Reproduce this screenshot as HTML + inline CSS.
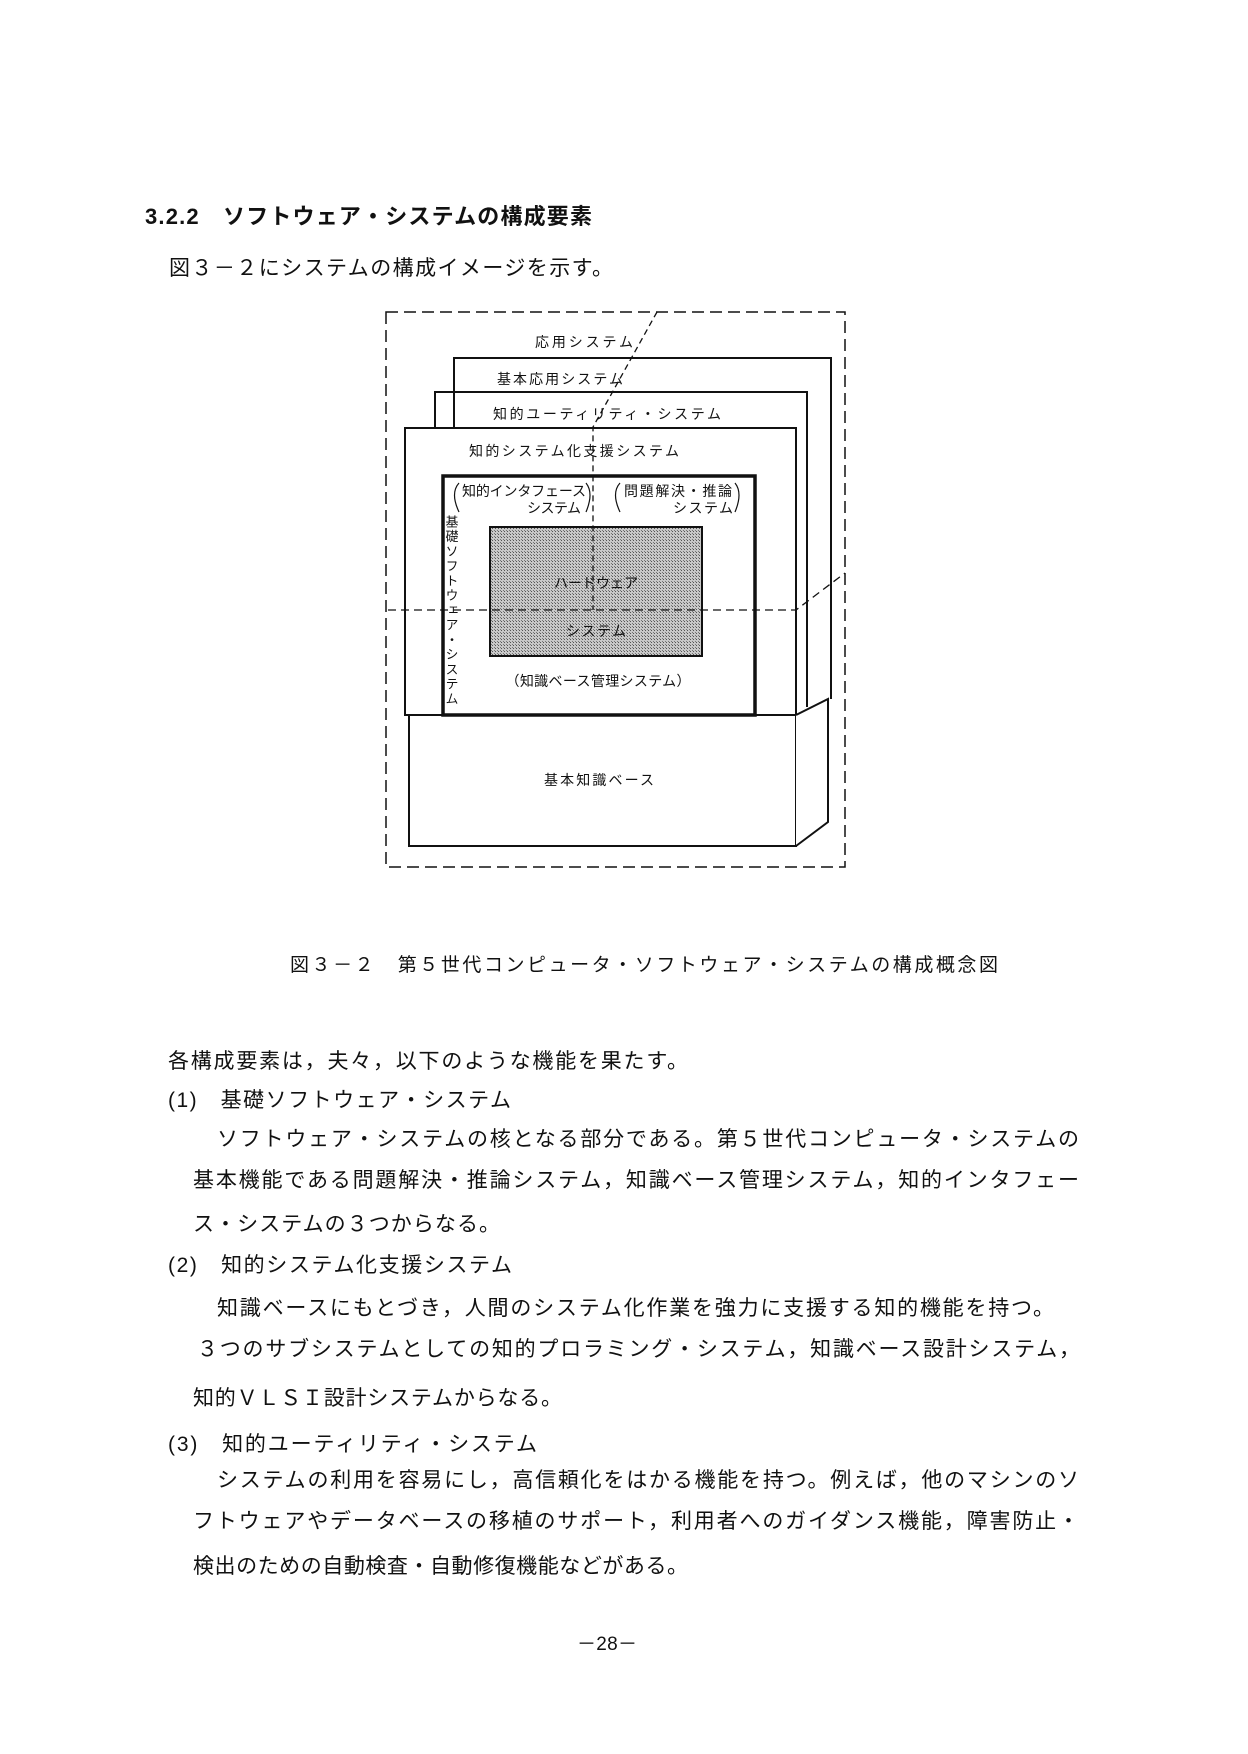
<!DOCTYPE html>
<html><head><meta charset="utf-8"><style>
html,body{margin:0;padding:0;background:#fff}
svg{display:block}
text{font-family:"Liberation Sans","Noto Sans CJK JP",sans-serif;fill:#111}
</style></head><body>
<svg width="1248" height="1754" viewBox="0 0 1248 1754" xmlns="http://www.w3.org/2000/svg">
<defs>
<pattern id="h" width="3" height="3" patternUnits="userSpaceOnUse">
<rect width="3" height="3" fill="#c8c8c8"/><rect width="1" height="1" fill="#555"/><rect x="2" y="2" width="1" height="1" fill="#777"/>
</pattern>
</defs>
<text x="145" y="224" font-size="22" font-weight="bold" textLength="447" lengthAdjust="spacing">3.2.2　ソフトウェア・システムの構成要素</text>
<text x="169" y="275" font-size="21" textLength="444" lengthAdjust="spacing">図３－２にシステムの構成イメージを示す。</text>

<g fill="none" stroke="#111">
<rect x="386" y="312" width="459" height="555" stroke-width="1.5" stroke-dasharray="12,6"/>
<path d="M454 428 V358 H831 V699" stroke-width="2"/>
<path d="M435 428 V392 H807 V707" stroke-width="2"/>
<rect x="405" y="428" width="391" height="287" fill="#fff" stroke-width="2"/>
<rect x="409" y="715" width="387" height="131" fill="#fff" stroke-width="2"/>
<path d="M796 715 L828 699 V822 L796 846" fill="#fff" stroke-width="2"/>
<rect x="443" y="476" width="312" height="239" fill="#fff" stroke-width="3.5"/>
<rect x="490" y="527" width="212" height="129" fill="url(#h)" stroke-width="2"/>
<path d="M388 610 H796 L845 573" stroke-width="1.3" stroke-dasharray="8,5"/>
<path d="M657 312 L593 427 V610" stroke-width="1.3" stroke-dasharray="6,4"/>
</g>

<g font-size="14">
<text x="584" y="347" text-anchor="middle" textLength="98" lengthAdjust="spacing">応用システム</text>
<text x="560" y="384" text-anchor="middle" textLength="126" lengthAdjust="spacing">基本応用システム</text>
<text x="607" y="419" text-anchor="middle" textLength="228" lengthAdjust="spacing">知的ユーティリティ・システム</text>
<text x="574" y="456" text-anchor="middle" textLength="210" lengthAdjust="spacing">知的システム化支援システム</text>
<text x="462" y="496" textLength="124" lengthAdjust="spacing">知的インタフェース</text>
<text x="581" y="513" text-anchor="end" textLength="54" lengthAdjust="spacing">システム</text>
<text x="624" y="496" textLength="108" lengthAdjust="spacing">問題解決・推論</text>
<text x="733" y="513" text-anchor="end" textLength="60" lengthAdjust="spacing">システム</text>
<text x="596" y="588" text-anchor="middle" textLength="84" lengthAdjust="spacing" fill="#555">ハードウェア</text>
<text x="596" y="636" text-anchor="middle" textLength="60" lengthAdjust="spacing" fill="#555">システム</text>
<text x="598" y="686" text-anchor="middle" textLength="185" lengthAdjust="spacing">（知識ベース管理システム）</text>
<text x="599" y="785" text-anchor="middle" textLength="110" lengthAdjust="spacing">基本知識ベース</text>
</g>
<g fill="none" stroke="#111" stroke-width="1.2">
<path d="M459 483 Q450 493 459 512"/><path d="M586 483 Q594 493 586 512"/>
<path d="M620 483 Q611 493 620 512"/><path d="M735 483 Q743 493 735 512"/>
</g>
<text x="451" y="515" font-size="13" text-anchor="start" style="writing-mode:vertical-rl" textLength="190" lengthAdjust="spacing">基礎ソフトウェア・システム</text>

<text x="290" y="971" font-size="19" textLength="708" lengthAdjust="spacing">図３－２　第５世代コンピュータ・ソフトウェア・システムの構成概念図</text>

<g font-size="21">
<text x="168" y="1068" textLength="520" lengthAdjust="spacing">各構成要素は，夫々，以下のような機能を果たす。</text>
<text x="168" y="1107" textLength="343" lengthAdjust="spacing">(1)　基礎ソフトウェア・システム</text>
<text x="217" y="1146" textLength="862" lengthAdjust="spacing">ソフトウェア・システムの核となる部分である。第５世代コンピュータ・システムの</text>
<text x="193" y="1187" textLength="886" lengthAdjust="spacing">基本機能である問題解決・推論システム，知識ベース管理システム，知的インタフェー</text>
<text x="193" y="1231" textLength="307" lengthAdjust="spacing">ス・システムの３つからなる。</text>
<text x="168" y="1272" textLength="344" lengthAdjust="spacing">(2)　知的システム化支援システム</text>
<text x="217" y="1315" textLength="837" lengthAdjust="spacing">知識ベースにもとづき，人間のシステム化作業を強力に支援する知的機能を持つ。</text>
<text x="197" y="1356" textLength="883" lengthAdjust="spacing">３つのサブシステムとしての知的プロラミング・システム，知識ベース設計システム，</text>
<text x="193" y="1405" textLength="369" lengthAdjust="spacing">知的ＶＬＳＩ設計システムからなる。</text>
<text x="168" y="1451" textLength="369" lengthAdjust="spacing">(3)　知的ユーティリティ・システム</text>
<text x="217" y="1487" textLength="862" lengthAdjust="spacing">システムの利用を容易にし，高信頼化をはかる機能を持つ。例えば，他のマシンのソ</text>
<text x="193" y="1528" textLength="886" lengthAdjust="spacing">フトウェアやデータベースの移植のサポート，利用者へのガイダンス機能，障害防止・</text>
<text x="193" y="1573" textLength="495" lengthAdjust="spacing">検出のための自動検査・自動修復機能などがある。</text>
</g>
<text x="607" y="1650" font-size="19" text-anchor="middle" textLength="60" lengthAdjust="spacing">－28－</text>
</svg>
</body></html>
